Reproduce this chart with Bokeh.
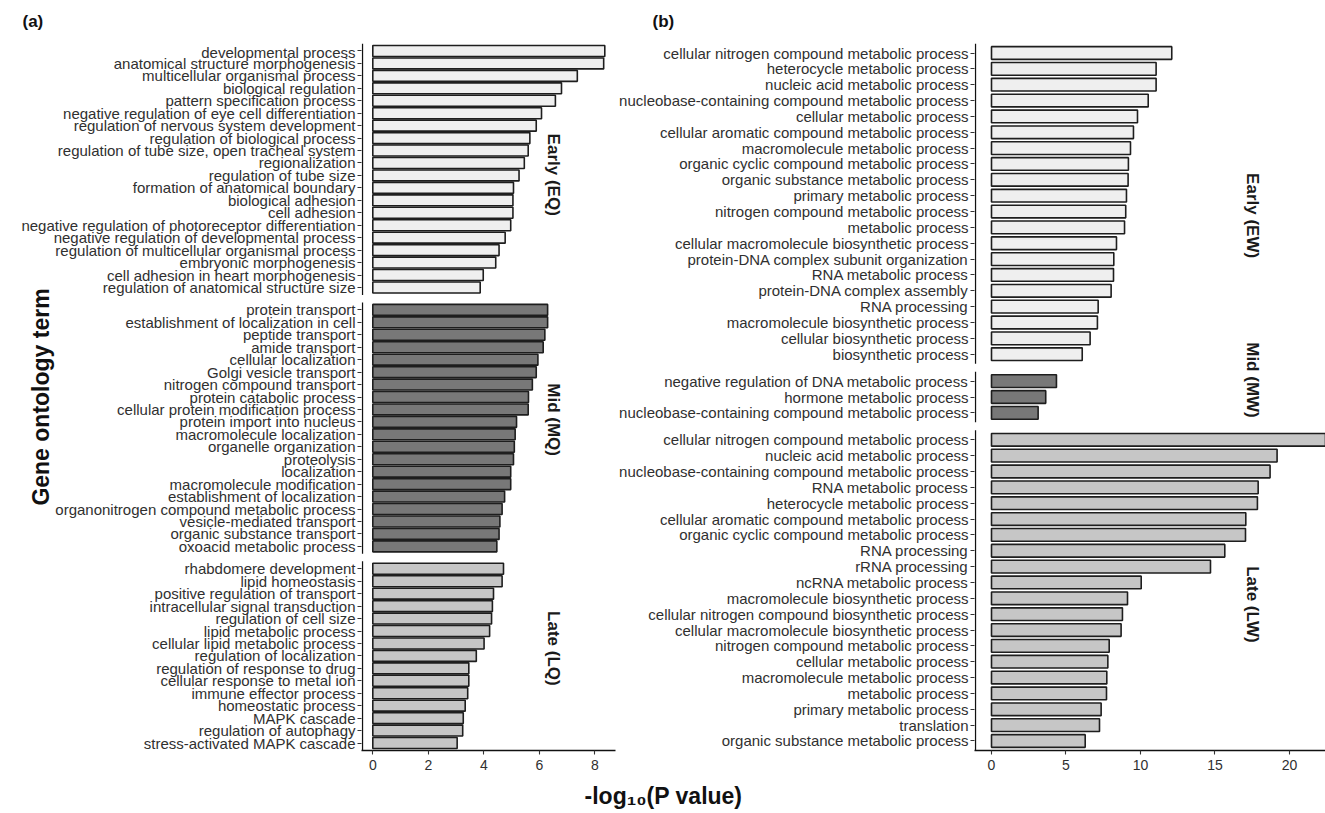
import math
from bokeh.plotting import figure
from bokeh.models import Range1d, FixedTicker, Label, ColumnDataSource
from bokeh.layouts import column, row
from bokeh.embed import file_html
from bokeh.resources import INLINE

# ---------------- data: panel (a) ----------------
a_early_terms = [
    "developmental process", "anatomical structure morphogenesis",
    "multicellular organismal process", "biological regulation",
    "pattern specification process", "negative regulation of eye cell differentiation",
    "regulation of nervous system development", "regulation of biological process",
    "regulation of tube size, open tracheal system", "regionalization",
    "regulation of tube size", "formation of anatomical boundary",
    "biological adhesion", "cell adhesion",
    "negative regulation of photoreceptor differentiation",
    "negative regulation of developmental process",
    "regulation of multicellular organismal process", "embryonic morphogenesis",
    "cell adhesion in heart morphogenesis", "regulation of anatomical structure size",
]
a_early_vals = [8.36, 8.32, 7.37, 6.80, 6.58, 6.08, 5.89, 5.66, 5.60, 5.46,
                5.27, 5.07, 5.05, 5.05, 4.97, 4.77, 4.55, 4.43, 3.98, 3.87]

a_mid_terms = [
    "protein transport", "establishment of localization in cell", "peptide transport",
    "amide transport", "cellular localization", "Golgi vesicle transport",
    "nitrogen compound transport", "protein catabolic process",
    "cellular protein modification process", "protein import into nucleus",
    "macromolecule localization", "organelle organization", "proteolysis",
    "localization", "macromolecule modification", "establishment of localization",
    "organonitrogen compound metabolic process", "vesicle-mediated transport",
    "organic substance transport", "oxoacid metabolic process",
]
a_mid_vals = [6.30, 6.30, 6.20, 6.14, 5.95, 5.89, 5.75, 5.61, 5.60, 5.18,
              5.13, 5.10, 5.07, 4.97, 4.97, 4.75, 4.66, 4.58, 4.55, 4.47]

a_late_terms = [
    "rhabdomere development", "lipid homeostasis", "positive regulation of transport",
    "intracellular signal transduction", "regulation of cell size",
    "lipid metabolic process", "cellular lipid metabolic process",
    "regulation of localization", "regulation of response to drug",
    "cellular response to metal ion", "immune effector process",
    "homeostatic process", "MAPK cascade", "regulation of autophagy",
    "stress-activated MAPK cascade",
]
a_late_vals = [4.71, 4.66, 4.35, 4.31, 4.28, 4.21, 4.01, 3.73, 3.46, 3.46,
               3.42, 3.33, 3.26, 3.24, 3.04]

# ---------------- data: panel (b) ----------------
b_early_terms = [
    "cellular nitrogen compound metabolic process", "heterocycle metabolic process",
    "nucleic acid metabolic process", "nucleobase-containing compound metabolic process",
    "cellular metabolic process", "cellular aromatic compound metabolic process",
    "macromolecule metabolic process", "organic cyclic compound metabolic process",
    "organic substance metabolic process", "primary metabolic process",
    "nitrogen compound metabolic process", "metabolic process",
    "cellular macromolecule biosynthetic process",
    "protein-DNA complex subunit organization", "RNA metabolic process",
    "protein-DNA complex assembly", "RNA processing",
    "macromolecule biosynthetic process", "cellular biosynthetic process",
    "biosynthetic process",
]
b_early_vals = [12.10, 11.05, 11.05, 10.52, 9.80, 9.53, 9.33, 9.19, 9.17, 9.06,
                9.01, 8.93, 8.39, 8.21, 8.19, 8.03, 7.16, 7.11, 6.62, 6.09]

b_mid_terms = [
    "negative regulation of DNA metabolic process", "hormone metabolic process",
    "nucleobase-containing compound metabolic process",
]
b_mid_vals = [4.36, 3.64, 3.13]

b_late_terms = [
    "cellular nitrogen compound metabolic process", "nucleic acid metabolic process",
    "nucleobase-containing compound metabolic process", "RNA metabolic process",
    "heterocycle metabolic process", "cellular aromatic compound metabolic process",
    "organic cyclic compound metabolic process", "RNA processing", "rRNA processing",
    "ncRNA metabolic process", "macromolecule biosynthetic process",
    "cellular nitrogen compound biosynthetic process",
    "cellular macromolecule biosynthetic process",
    "nitrogen compound metabolic process", "cellular metabolic process",
    "macromolecule metabolic process", "metabolic process",
    "primary metabolic process", "translation", "organic substance metabolic process",
]
b_late_vals = [23.0, 19.17, 18.70, 17.90, 17.85, 17.07, 17.05, 15.66, 14.70, 10.05,
               9.13, 8.79, 8.70, 7.90, 7.81, 7.74, 7.72, 7.36, 7.25, 6.29]

a_xticks = [0, 2, 4, 6, 8]
b_xticks = [0, 5, 10, 15, 20]

FONT = "Liberation Sans"
FILL_EARLY = "#efefef"
FILL_MID = "#787878"
FILL_LATE = "#c6c6c6"
EDGE = "#1e1e1e"
TXT = "#303030"
AXC = "#111111"

HEADER_H = 43
FRAME_H = 707
BOTTOM = 32
PANEL_H = FRAME_H + BOTTOM
XLAB_H = 810 - HEADER_H - PANEL_H
TOTAL_W = 1325
A_W = 616


def make_panel(facets, width, left, right, x0, x1, line_x, gap, bar_h, xticks,
               strip_x, ylabel=None, ylabel_standoff=0):
    sizes = [10 * len(f[0]) + 2 for f in facets]
    bases = []
    b = 0
    for s in reversed(sizes):
        bases.append(b)
        b += s + gap
    total = b - gap
    bases = bases[::-1]

    p = figure(width=width, height=PANEL_H, x_range=Range1d(x0, x1),
               y_range=Range1d(0, total), output_backend="svg", toolbar_location=None,
               min_border_left=left, min_border_right=right,
               min_border_top=0, min_border_bottom=BOTTOM)
    p.outline_line_color = None
    p.xgrid.visible = False
    p.ygrid.visible = False

    ppu = FRAME_H / total
    all_ticks = []
    overrides = {}
    seg_lo, seg_hi = [], []
    for (terms, vals, fill, strip, down_px), base, size in zip(facets, bases, sizes):
        n = len(terms)
        ys = [base + 6 + 10 * (n - 1 - i) for i in range(n)]
        src = ColumnDataSource(dict(y=ys, v=vals))
        p.hbar(y="y", left=0, right="v", height=bar_h, source=src,
               fill_color=fill, line_color=EDGE, line_width=1.6)
        all_ticks += ys
        overrides.update({y: t for y, t in zip(ys, terms)})
        seg_lo.append(base)
        seg_hi.append(base + size)
        p.add_layout(Label(x=strip_x, y=base + size / 2 - down_px / ppu, text=strip,
                           angle=-math.pi / 2, text_align="center", text_baseline="middle",
                           text_font=FONT, text_font_style="bold", text_font_size="17px",
                           text_color="#1a1a1a"))

    # facet axis lines (one per facet, with gaps between facets)
    p.segment(x0=[line_x] * len(seg_lo), y0=seg_lo, x1=[line_x] * len(seg_lo), y1=seg_hi,
              line_color=AXC, line_width=1.3)

    ya = p.yaxis[0]
    ya.ticker = FixedTicker(ticks=sorted(all_ticks))
    ya.major_label_overrides = overrides
    ya.axis_line_color = None
    ya.major_tick_line_color = "#333333"
    ya.major_tick_line_width = 1.1
    ya.major_tick_out = 4
    ya.major_tick_in = 0
    ya.minor_tick_out = 0
    ya.minor_tick_in = 0
    ya.major_label_standoff = 2
    ya.major_label_text_font = FONT
    ya.major_label_text_font_size = "15px"
    ya.major_label_text_color = TXT
    if ylabel:
        ya.axis_label = ylabel
        ya.axis_label_text_font = FONT
        ya.axis_label_text_font_style = "bold"
        ya.axis_label_text_font_size = "23px"
        ya.axis_label_text_color = AXC
        ya.axis_label_standoff = ylabel_standoff

    xa = p.xaxis[0]
    xa.ticker = FixedTicker(ticks=xticks)
    xa.axis_line_color = AXC
    xa.axis_line_width = 1.3
    xa.major_tick_line_color = "#333333"
    xa.major_tick_line_width = 1.1
    xa.major_tick_out = 4
    xa.major_tick_in = 0
    xa.minor_tick_out = 0
    xa.minor_tick_in = 0
    xa.major_label_standoff = 5
    xa.major_label_text_font = FONT
    xa.major_label_text_font_size = "14px"
    xa.major_label_text_color = TXT
    return p


# panel (a): frame x 361..615, zero at 372.3, 27.75 px per unit
figA = make_panel(
    [(a_early_terms, a_early_vals, FILL_EARLY, "Early (EQ)", 5.5),
     (a_mid_terms, a_mid_vals, FILL_MID, "Mid (MQ)", -8.5),
     (a_late_terms, a_late_vals, FILL_LATE, "Late (LQ)", -7.5)],
    width=A_W, left=361, right=A_W - 615, x0=-0.407, x1=8.746, line_x=-0.371,
    gap=6, bar_h=8.8, xticks=a_xticks, strip_x=6.5,
    ylabel="Gene ontology term", ylabel_standoff=-36)

# panel (b): frame x 974..1325, zero at 991, 14.9 px per unit
figB = make_panel(
    [(b_early_terms, b_early_vals, FILL_EARLY, "Early (EW)", 12),
     (b_mid_terms, b_mid_vals, FILL_MID, "Mid (MW)", -17),
     (b_late_terms, b_late_vals, FILL_LATE, "Late (LW)", 14)],
    width=TOTAL_W - A_W, left=974 - A_W, right=0, x0=-1.141, x1=22.42, line_x=-1.074,
    gap=5, bar_h=8.0, xticks=b_xticks, strip_x=17.5)


def text_strip(height):
    f = figure(width=TOTAL_W, height=height, x_range=Range1d(0, TOTAL_W),
               y_range=Range1d(0, height), output_backend="svg", toolbar_location=None,
               x_axis_location=None, y_axis_location=None,
               min_border_left=0, min_border_right=0, min_border_top=0, min_border_bottom=0)
    f.outline_line_color = None
    f.xgrid.visible = False
    f.ygrid.visible = False
    return f


header = text_strip(HEADER_H)
for tag, tx in (("(a)", 22), ("(b)", 652)):
    header.add_layout(Label(x=tx, y=HEADER_H - 21, text=tag, text_align="left",
                            text_baseline="middle", text_font=FONT, text_font_style="bold",
                            text_font_size="17px", text_color=AXC))

xlab = text_strip(XLAB_H)
xlab.add_layout(Label(x=663, y=XLAB_H - (795 - HEADER_H - PANEL_H), text="-log\u2081\u2080(P value)",
                      text_align="center", text_baseline="middle", text_font=FONT,
                      text_font_style="bold", text_font_size="23px", text_color=AXC))

layout = column(header, row(figA, figB), xlab)

open("out.html", "w").write(file_html(layout, INLINE))
